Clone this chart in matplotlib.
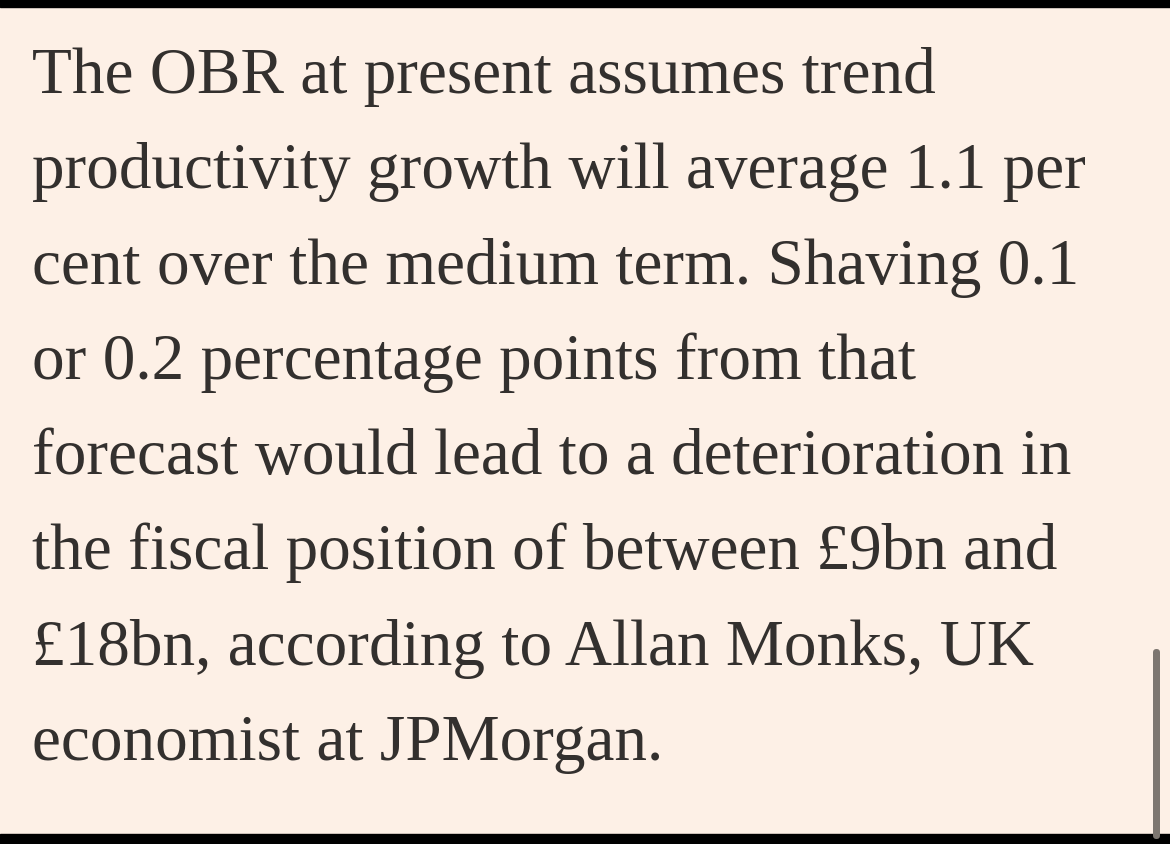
import matplotlib
matplotlib.use("Agg")
import matplotlib.pyplot as plt
from matplotlib.patches import Rectangle, FancyBboxPatch

lines = [
    "The OBR at present assumes trend",
    "productivity growth will average 1.1 per",
    "cent over the medium term. Shaving 0.1",
    "or 0.2 percentage points from that",
    "forecast would lead to a deterioration in",
    "the fiscal position of between £9bn and",
    "£18bn, according to Allan Monks, UK",
    "economist at JPMorgan.",
]

W, H = 1170, 845
fig = plt.figure(figsize=(W / 100, H / 100), dpi=100)
fig.patch.set_facecolor("#FDF0E6")
ax = fig.add_axes([0, 0, 1, 1])
ax.set_xlim(0, W)
ax.set_ylim(H, 0)
ax.axis("off")
ax.set_facecolor("#FDF0E6")

ax.add_patch(Rectangle((0, 0), W, 8, color="black"))
ax.add_patch(Rectangle((0, 835), W, 10, color="black"))
ax.add_patch(FancyBboxPatch((1153, 650), 7, 190, boxstyle="round,pad=0,rounding_size=3.5",
                            color="#7D7670", lw=0))

for i, t in enumerate(lines):
    ax.text(32, 93 + i * 95.3, t, fontsize=47, family="Liberation Serif",
            color="#33302E", va="baseline", ha="left")

fig.savefig("out.png", dpi=100, facecolor=fig.get_facecolor())
